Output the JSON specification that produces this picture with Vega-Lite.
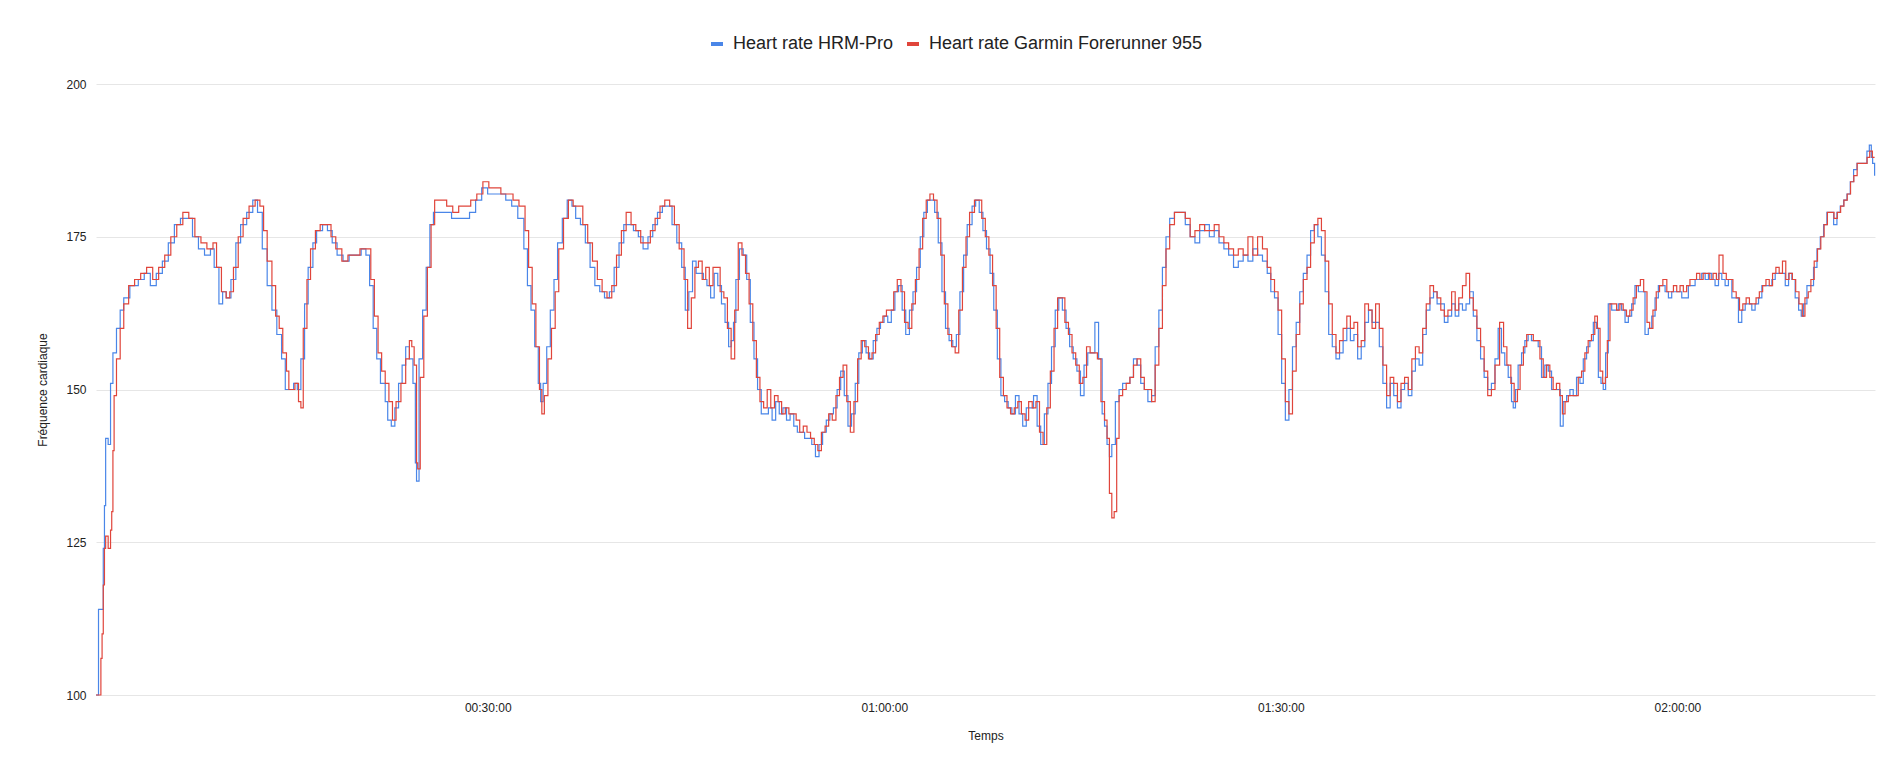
{
  "$schema": "https://vega.github.io/schema/vega-lite/v6.json",
  "description": "Heart rate HRM-Pro vs Garmin Forerunner 955",
  "autosize": {"type": "none"},
  "width": 1779,
  "height": 611,
  "padding": {"left": 96, "top": 84, "right": 13, "bottom": 62},
  "background": "white",
  "config": {
    "view": {"stroke": null},
    "font": "Liberation Sans",
    "axis": {"labelFont": "Liberation Sans", "titleFont": "Liberation Sans"}
  },
  "datasets": {
    "hrm": [
      {"t":0.36,"hr":100},{"t":0.55,"hr":114},{"t":0.73,"hr":114},{"t":0.91,"hr":124},{"t":1.0,"hr":131},{"t":1.09,"hr":142},{"t":1.28,"hr":141},{"t":1.46,"hr":151},{"t":1.64,"hr":156},{"t":1.91,"hr":160},
      {"t":2.19,"hr":163},{"t":2.46,"hr":165},{"t":2.92,"hr":167},{"t":3.56,"hr":168},{"t":4.01,"hr":169},{"t":4.47,"hr":167},{"t":4.92,"hr":169},{"t":5.38,"hr":171},{"t":5.83,"hr":174},{"t":6.29,"hr":177},
      {"t":6.75,"hr":178},{"t":7.2,"hr":178},{"t":7.66,"hr":175},{"t":8.11,"hr":173},{"t":8.57,"hr":172},{"t":9.02,"hr":173},{"t":9.3,"hr":170},{"t":9.66,"hr":164},{"t":9.94,"hr":166},{"t":10.21,"hr":165},
      {"t":10.57,"hr":168},{"t":10.94,"hr":174},{"t":11.3,"hr":177},{"t":11.76,"hr":179},{"t":12.22,"hr":181},{"t":12.58,"hr":179},{"t":12.94,"hr":173},{"t":13.31,"hr":167},{"t":13.67,"hr":163},{"t":14.04,"hr":159},
      {"t":14.4,"hr":155},{"t":14.68,"hr":150},{"t":14.95,"hr":150},{"t":15.31,"hr":151},{"t":15.59,"hr":150},{"t":15.86,"hr":155},{"t":16.14,"hr":164},{"t":16.41,"hr":170},{"t":16.77,"hr":174},{"t":17.05,"hr":176},
      {"t":17.5,"hr":177},{"t":17.87,"hr":176},{"t":18.23,"hr":174},{"t":18.6,"hr":172},{"t":19.05,"hr":171},{"t":19.51,"hr":172},{"t":19.96,"hr":172},{"t":20.42,"hr":173},{"t":20.78,"hr":172},{"t":21.06,"hr":167},
      {"t":21.33,"hr":160},{"t":21.6,"hr":155},{"t":21.88,"hr":151},{"t":22.24,"hr":148},{"t":22.43,"hr":145},{"t":22.7,"hr":144},{"t":22.97,"hr":147},{"t":23.25,"hr":151},{"t":23.52,"hr":154},{"t":23.79,"hr":157},
      {"t":24.07,"hr":155},{"t":24.34,"hr":151},{"t":24.52,"hr":138},{"t":24.61,"hr":135},{"t":24.8,"hr":155},{"t":25.07,"hr":163},{"t":25.34,"hr":170},{"t":25.62,"hr":177},{"t":25.89,"hr":179},{"t":26.35,"hr":179},
      {"t":26.8,"hr":179},{"t":27.26,"hr":178},{"t":27.71,"hr":178},{"t":28.17,"hr":178},{"t":28.62,"hr":179},{"t":29.08,"hr":181},{"t":29.54,"hr":183},{"t":29.99,"hr":182},{"t":30.45,"hr":182},{"t":30.9,"hr":182},
      {"t":31.36,"hr":181},{"t":31.81,"hr":180},{"t":32.27,"hr":178},{"t":32.73,"hr":173},{"t":33.0,"hr":167},{"t":33.27,"hr":163},{"t":33.55,"hr":157},{"t":33.82,"hr":151},{"t":34.0,"hr":148},{"t":34.19,"hr":151},
      {"t":34.46,"hr":157},{"t":34.73,"hr":163},{"t":35.01,"hr":168},{"t":35.28,"hr":174},{"t":35.64,"hr":178},{"t":36.01,"hr":181},{"t":36.37,"hr":180},{"t":36.65,"hr":178},{"t":37.01,"hr":177},{"t":37.38,"hr":174},
      {"t":37.74,"hr":170},{"t":38.1,"hr":167},{"t":38.47,"hr":166},{"t":38.83,"hr":165},{"t":39.2,"hr":166},{"t":39.56,"hr":170},{"t":39.93,"hr":174},{"t":40.29,"hr":177},{"t":40.66,"hr":177},{"t":41.02,"hr":176},
      {"t":41.39,"hr":175},{"t":41.75,"hr":173},{"t":42.12,"hr":175},{"t":42.48,"hr":177},{"t":42.84,"hr":179},{"t":43.21,"hr":180},{"t":43.57,"hr":180},{"t":43.94,"hr":177},{"t":44.3,"hr":174},{"t":44.67,"hr":170},
      {"t":44.94,"hr":163},{"t":45.21,"hr":166},{"t":45.49,"hr":171},{"t":45.76,"hr":169},{"t":46.04,"hr":169},{"t":46.31,"hr":168},{"t":46.58,"hr":167},{"t":46.86,"hr":165},{"t":47.13,"hr":169},{"t":47.4,"hr":167},
      {"t":47.68,"hr":164},{"t":47.95,"hr":161},{"t":48.22,"hr":157},{"t":48.41,"hr":158},{"t":48.59,"hr":161},{"t":48.77,"hr":168},{"t":49.04,"hr":173},{"t":49.32,"hr":172},{"t":49.59,"hr":168},{"t":49.86,"hr":161},
      {"t":50.14,"hr":155},{"t":50.41,"hr":150},{"t":50.69,"hr":146},{"t":50.96,"hr":146},{"t":51.23,"hr":147},{"t":51.51,"hr":145},{"t":51.78,"hr":148},{"t":52.05,"hr":146},{"t":52.33,"hr":147},{"t":52.6,"hr":145},
      {"t":52.87,"hr":146},{"t":53.15,"hr":144},{"t":53.42,"hr":143},{"t":53.69,"hr":143},{"t":53.97,"hr":142},{"t":54.24,"hr":142},{"t":54.51,"hr":141},{"t":54.79,"hr":139},{"t":55.06,"hr":141},{"t":55.33,"hr":143},
      {"t":55.61,"hr":145},{"t":55.88,"hr":146},{"t":56.15,"hr":147},{"t":56.43,"hr":150},{"t":56.7,"hr":153},{"t":56.97,"hr":149},{"t":57.25,"hr":144},{"t":57.52,"hr":146},{"t":57.8,"hr":151},{"t":58.07,"hr":156},
      {"t":58.34,"hr":158},{"t":58.62,"hr":156},{"t":58.89,"hr":155},{"t":59.16,"hr":158},{"t":59.44,"hr":160},{"t":59.71,"hr":161},{"t":59.98,"hr":162},{"t":60.26,"hr":161},{"t":60.53,"hr":163},{"t":60.8,"hr":166},
      {"t":61.08,"hr":167},{"t":61.35,"hr":163},{"t":61.62,"hr":159},{"t":61.9,"hr":163},{"t":62.17,"hr":166},{"t":62.44,"hr":170},{"t":62.72,"hr":175},{"t":62.99,"hr":179},{"t":63.26,"hr":181},{"t":63.54,"hr":181},
      {"t":63.81,"hr":179},{"t":64.08,"hr":174},{"t":64.36,"hr":166},{"t":64.63,"hr":160},{"t":64.9,"hr":158},{"t":65.18,"hr":157},{"t":65.45,"hr":159},{"t":65.72,"hr":166},{"t":66.0,"hr":172},{"t":66.27,"hr":177},
      {"t":66.64,"hr":180},{"t":66.91,"hr":181},{"t":67.18,"hr":179},{"t":67.46,"hr":176},{"t":67.73,"hr":173},{"t":68.0,"hr":169},{"t":68.28,"hr":163},{"t":68.55,"hr":155},{"t":68.82,"hr":149},{"t":69.1,"hr":148},
      {"t":69.37,"hr":147},{"t":69.65,"hr":146},{"t":69.92,"hr":149},{"t":70.19,"hr":146},{"t":70.47,"hr":144},{"t":70.74,"hr":147},{"t":71.01,"hr":147},{"t":71.29,"hr":149},{"t":71.56,"hr":144},{"t":71.83,"hr":141},
      {"t":72.11,"hr":146},{"t":72.38,"hr":151},{"t":72.65,"hr":157},{"t":72.93,"hr":163},{"t":73.2,"hr":165},{"t":73.47,"hr":163},{"t":73.75,"hr":160},{"t":74.02,"hr":157},{"t":74.29,"hr":155},{"t":74.57,"hr":153},
      {"t":74.84,"hr":149},{"t":75.11,"hr":154},{"t":75.39,"hr":156},{"t":75.66,"hr":156},{"t":75.93,"hr":161},{"t":76.21,"hr":155},{"t":76.48,"hr":146},{"t":76.66,"hr":144},{"t":76.85,"hr":141},{"t":77.03,"hr":139},
      {"t":77.21,"hr":141},{"t":77.48,"hr":148},{"t":77.76,"hr":150},{"t":78.03,"hr":151},{"t":78.3,"hr":151},{"t":78.58,"hr":152},{"t":78.85,"hr":155},{"t":79.12,"hr":154},{"t":79.4,"hr":151},{"t":79.67,"hr":150},
      {"t":79.94,"hr":148},{"t":80.22,"hr":149},{"t":80.49,"hr":157},{"t":80.77,"hr":163},{"t":81.04,"hr":170},{"t":81.31,"hr":175},{"t":81.59,"hr":178},{"t":81.95,"hr":179},{"t":82.41,"hr":179},{"t":82.77,"hr":177},
      {"t":83.14,"hr":175},{"t":83.5,"hr":174},{"t":83.86,"hr":176},{"t":84.23,"hr":177},{"t":84.59,"hr":175},{"t":84.96,"hr":176},{"t":85.32,"hr":174},{"t":85.69,"hr":173},{"t":86.05,"hr":172},{"t":86.42,"hr":170},
      {"t":86.78,"hr":171},{"t":87.15,"hr":172},{"t":87.51,"hr":171},{"t":87.88,"hr":173},{"t":88.24,"hr":172},{"t":88.61,"hr":171},{"t":88.97,"hr":169},{"t":89.24,"hr":166},{"t":89.52,"hr":165},{"t":89.79,"hr":159},
      {"t":90.06,"hr":151},{"t":90.34,"hr":145},{"t":90.61,"hr":150},{"t":90.88,"hr":157},{"t":91.16,"hr":161},{"t":91.43,"hr":166},{"t":91.7,"hr":169},{"t":91.98,"hr":172},{"t":92.25,"hr":176},{"t":92.53,"hr":177},
      {"t":92.8,"hr":175},{"t":93.07,"hr":172},{"t":93.35,"hr":166},{"t":93.62,"hr":159},{"t":93.89,"hr":157},{"t":94.17,"hr":155},{"t":94.44,"hr":156},{"t":94.71,"hr":158},{"t":94.99,"hr":160},{"t":95.26,"hr":158},
      {"t":95.53,"hr":159},{"t":95.81,"hr":155},{"t":96.08,"hr":157},{"t":96.35,"hr":161},{"t":96.63,"hr":163},{"t":96.9,"hr":161},{"t":97.17,"hr":161},{"t":97.45,"hr":157},{"t":97.72,"hr":151},{"t":98.0,"hr":147},
      {"t":98.27,"hr":151},{"t":98.54,"hr":149},{"t":98.82,"hr":147},{"t":99.09,"hr":150},{"t":99.36,"hr":151},{"t":99.64,"hr":149},{"t":99.91,"hr":153},{"t":100.18,"hr":155},{"t":100.46,"hr":154},{"t":100.73,"hr":159},
      {"t":101.0,"hr":163},{"t":101.28,"hr":165},{"t":101.55,"hr":166},{"t":101.82,"hr":164},{"t":102.1,"hr":164},{"t":102.37,"hr":161},{"t":102.64,"hr":162},{"t":102.92,"hr":164},{"t":103.19,"hr":162},{"t":103.46,"hr":164},
      {"t":103.74,"hr":163},{"t":104.01,"hr":164},{"t":104.28,"hr":166},{"t":104.56,"hr":162},{"t":104.83,"hr":158},{"t":105.11,"hr":155},{"t":105.38,"hr":152},{"t":105.65,"hr":150},{"t":105.93,"hr":151},{"t":106.2,"hr":155},
      {"t":106.44,"hr":160},{"t":106.69,"hr":156},{"t":106.94,"hr":154},{"t":107.2,"hr":152},{"t":107.45,"hr":148},{"t":107.58,"hr":147},{"t":107.75,"hr":150},{"t":107.95,"hr":154},{"t":108.21,"hr":156},{"t":108.46,"hr":158},
      {"t":108.71,"hr":159},{"t":108.96,"hr":158},{"t":109.22,"hr":158},{"t":109.47,"hr":157},{"t":109.72,"hr":152},{"t":109.97,"hr":154},{"t":110.23,"hr":153},{"t":110.48,"hr":150},{"t":110.73,"hr":150},{"t":110.98,"hr":150},
      {"t":111.14,"hr":144},{"t":111.36,"hr":148},{"t":111.62,"hr":149},{"t":111.87,"hr":150},{"t":112.12,"hr":149},{"t":112.37,"hr":152},{"t":112.63,"hr":151},{"t":112.88,"hr":155},{"t":113.13,"hr":157},{"t":113.38,"hr":158},
      {"t":113.64,"hr":161},{"t":113.89,"hr":160},{"t":114.02,"hr":152},{"t":114.22,"hr":151},{"t":114.39,"hr":150},{"t":114.57,"hr":156},{"t":114.77,"hr":164},{"t":115.03,"hr":163},{"t":115.28,"hr":163},{"t":115.53,"hr":164},
      {"t":115.78,"hr":163},{"t":116.04,"hr":161},{"t":116.29,"hr":162},{"t":116.54,"hr":164},{"t":116.79,"hr":167},{"t":117.05,"hr":166},{"t":117.3,"hr":166},{"t":117.55,"hr":159},{"t":117.8,"hr":160},{"t":118.06,"hr":162},
      {"t":118.31,"hr":165},{"t":118.56,"hr":167},{"t":118.81,"hr":167},{"t":119.07,"hr":166},{"t":119.32,"hr":165},{"t":119.57,"hr":166},{"t":119.82,"hr":166},{"t":120.08,"hr":166},{"t":120.33,"hr":165},{"t":120.58,"hr":165},
      {"t":120.83,"hr":167},{"t":121.09,"hr":167},{"t":121.34,"hr":168},{"t":121.59,"hr":168},{"t":121.84,"hr":169},{"t":122.1,"hr":168},{"t":122.35,"hr":169},{"t":122.6,"hr":168},{"t":122.85,"hr":167},{"t":123.11,"hr":169},
      {"t":123.36,"hr":168},{"t":123.61,"hr":167},{"t":123.86,"hr":168},{"t":124.12,"hr":165},{"t":124.37,"hr":165},{"t":124.62,"hr":161},{"t":124.87,"hr":163},{"t":125.13,"hr":164},{"t":125.38,"hr":164},{"t":125.63,"hr":163},
      {"t":125.88,"hr":164},{"t":126.14,"hr":165},{"t":126.39,"hr":167},{"t":126.64,"hr":167},{"t":126.89,"hr":167},{"t":127.15,"hr":168},{"t":127.4,"hr":169},{"t":127.65,"hr":169},{"t":127.9,"hr":169},{"t":128.16,"hr":167},
      {"t":128.41,"hr":169},{"t":128.66,"hr":168},{"t":128.91,"hr":165},{"t":129.17,"hr":163},{"t":129.37,"hr":162},{"t":129.55,"hr":164},{"t":129.8,"hr":167},{"t":130.05,"hr":167},{"t":130.3,"hr":170},{"t":130.56,"hr":173},
      {"t":130.81,"hr":175},{"t":131.06,"hr":177},{"t":131.31,"hr":179},{"t":131.57,"hr":179},{"t":131.82,"hr":177},{"t":132.07,"hr":179},{"t":132.32,"hr":180},{"t":132.58,"hr":181},{"t":132.83,"hr":182},{"t":133.08,"hr":184},
      {"t":133.33,"hr":186},{"t":133.59,"hr":187},{"t":133.84,"hr":187},{"t":134.09,"hr":187},{"t":134.34,"hr":189},{"t":134.52,"hr":190},{"t":134.67,"hr":188},{"t":134.77,"hr":187},{"t":134.92,"hr":185}
    ],
    "garmin": [
      {"t":0.36,"hr":100},{"t":0.64,"hr":100},{"t":0.73,"hr":106},{"t":0.82,"hr":110},{"t":0.91,"hr":118},{"t":1.0,"hr":124},{"t":1.09,"hr":126},{"t":1.28,"hr":124},{"t":1.46,"hr":127},{"t":1.55,"hr":130},
      {"t":1.64,"hr":140},{"t":1.73,"hr":149},{"t":1.91,"hr":155},{"t":2.19,"hr":160},{"t":2.46,"hr":164},{"t":2.83,"hr":167},{"t":3.28,"hr":168},{"t":3.74,"hr":169},{"t":4.19,"hr":170},{"t":4.65,"hr":168},
      {"t":5.1,"hr":170},{"t":5.56,"hr":172},{"t":6.02,"hr":175},{"t":6.47,"hr":177},{"t":6.93,"hr":179},{"t":7.38,"hr":178},{"t":7.84,"hr":175},{"t":8.3,"hr":174},{"t":8.75,"hr":173},{"t":9.21,"hr":174},
      {"t":9.48,"hr":170},{"t":9.85,"hr":166},{"t":10.21,"hr":165},{"t":10.48,"hr":166},{"t":10.76,"hr":170},{"t":11.12,"hr":175},{"t":11.49,"hr":178},{"t":11.94,"hr":180},{"t":12.4,"hr":181},{"t":12.76,"hr":180},
      {"t":13.04,"hr":176},{"t":13.31,"hr":171},{"t":13.67,"hr":167},{"t":13.95,"hr":162},{"t":14.22,"hr":160},{"t":14.49,"hr":156},{"t":14.77,"hr":153},{"t":14.95,"hr":150},{"t":15.41,"hr":151},{"t":15.68,"hr":148},
      {"t":15.86,"hr":147},{"t":16.04,"hr":160},{"t":16.32,"hr":168},{"t":16.59,"hr":173},{"t":16.96,"hr":176},{"t":17.32,"hr":177},{"t":17.78,"hr":177},{"t":18.14,"hr":175},{"t":18.5,"hr":173},{"t":18.96,"hr":171},
      {"t":19.42,"hr":172},{"t":19.87,"hr":172},{"t":20.33,"hr":173},{"t":20.88,"hr":173},{"t":21.15,"hr":168},{"t":21.42,"hr":162},{"t":21.7,"hr":156},{"t":21.97,"hr":153},{"t":22.24,"hr":151},{"t":22.52,"hr":148},
      {"t":22.79,"hr":145},{"t":23.06,"hr":148},{"t":23.43,"hr":151},{"t":23.79,"hr":155},{"t":24.07,"hr":158},{"t":24.25,"hr":157},{"t":24.43,"hr":154},{"t":24.61,"hr":138},{"t":24.7,"hr":137},{"t":24.89,"hr":152},
      {"t":25.16,"hr":162},{"t":25.43,"hr":170},{"t":25.71,"hr":177},{"t":25.98,"hr":181},{"t":26.44,"hr":181},{"t":26.89,"hr":180},{"t":27.35,"hr":179},{"t":27.8,"hr":180},{"t":28.26,"hr":180},{"t":28.71,"hr":181},
      {"t":29.17,"hr":182},{"t":29.63,"hr":184},{"t":30.08,"hr":183},{"t":30.54,"hr":183},{"t":30.99,"hr":182},{"t":31.45,"hr":182},{"t":31.91,"hr":181},{"t":32.36,"hr":180},{"t":32.82,"hr":176},{"t":33.09,"hr":170},
      {"t":33.36,"hr":164},{"t":33.64,"hr":157},{"t":33.91,"hr":150},{"t":34.09,"hr":146},{"t":34.28,"hr":149},{"t":34.55,"hr":155},{"t":34.82,"hr":160},{"t":35.1,"hr":166},{"t":35.37,"hr":173},{"t":35.73,"hr":178},
      {"t":36.1,"hr":181},{"t":36.46,"hr":180},{"t":36.83,"hr":180},{"t":37.19,"hr":177},{"t":37.56,"hr":174},{"t":37.92,"hr":171},{"t":38.29,"hr":168},{"t":38.65,"hr":166},{"t":39.02,"hr":165},{"t":39.38,"hr":167},
      {"t":39.74,"hr":172},{"t":40.11,"hr":176},{"t":40.47,"hr":179},{"t":40.84,"hr":177},{"t":41.2,"hr":176},{"t":41.57,"hr":174},{"t":41.93,"hr":174},{"t":42.3,"hr":176},{"t":42.66,"hr":178},{"t":43.03,"hr":180},
      {"t":43.39,"hr":181},{"t":43.76,"hr":180},{"t":44.12,"hr":177},{"t":44.48,"hr":173},{"t":44.85,"hr":168},{"t":45.12,"hr":160},{"t":45.4,"hr":165},{"t":45.67,"hr":170},{"t":45.94,"hr":171},{"t":46.22,"hr":168},
      {"t":46.49,"hr":170},{"t":46.76,"hr":167},{"t":47.04,"hr":170},{"t":47.31,"hr":170},{"t":47.58,"hr":166},{"t":47.86,"hr":165},{"t":48.13,"hr":160},{"t":48.41,"hr":155},{"t":48.68,"hr":163},{"t":48.95,"hr":174},
      {"t":49.23,"hr":172},{"t":49.5,"hr":169},{"t":49.77,"hr":164},{"t":50.05,"hr":158},{"t":50.32,"hr":152},{"t":50.59,"hr":148},{"t":50.87,"hr":147},{"t":51.14,"hr":150},{"t":51.41,"hr":147},{"t":51.69,"hr":149},
      {"t":51.96,"hr":148},{"t":52.23,"hr":146},{"t":52.51,"hr":147},{"t":52.78,"hr":146},{"t":53.05,"hr":146},{"t":53.33,"hr":145},{"t":53.6,"hr":143},{"t":53.87,"hr":144},{"t":54.15,"hr":143},{"t":54.42,"hr":142},
      {"t":54.7,"hr":141},{"t":54.97,"hr":140},{"t":55.24,"hr":143},{"t":55.52,"hr":144},{"t":55.79,"hr":146},{"t":56.06,"hr":145},{"t":56.34,"hr":149},{"t":56.61,"hr":152},{"t":56.88,"hr":154},{"t":57.16,"hr":148},
      {"t":57.43,"hr":143},{"t":57.7,"hr":148},{"t":57.98,"hr":155},{"t":58.25,"hr":158},{"t":58.52,"hr":157},{"t":58.8,"hr":155},{"t":59.07,"hr":156},{"t":59.34,"hr":159},{"t":59.62,"hr":161},{"t":59.89,"hr":162},
      {"t":60.16,"hr":163},{"t":60.44,"hr":163},{"t":60.71,"hr":166},{"t":60.98,"hr":168},{"t":61.26,"hr":166},{"t":61.53,"hr":161},{"t":61.8,"hr":160},{"t":62.08,"hr":164},{"t":62.35,"hr":168},{"t":62.63,"hr":173},
      {"t":62.9,"hr":178},{"t":63.17,"hr":181},{"t":63.45,"hr":182},{"t":63.72,"hr":181},{"t":63.99,"hr":178},{"t":64.27,"hr":172},{"t":64.54,"hr":164},{"t":64.81,"hr":159},{"t":65.09,"hr":157},{"t":65.36,"hr":156},
      {"t":65.63,"hr":163},{"t":65.91,"hr":170},{"t":66.18,"hr":175},{"t":66.45,"hr":179},{"t":66.82,"hr":181},{"t":67.09,"hr":181},{"t":67.37,"hr":178},{"t":67.64,"hr":175},{"t":67.91,"hr":172},{"t":68.19,"hr":167},
      {"t":68.46,"hr":160},{"t":68.73,"hr":152},{"t":69.01,"hr":149},{"t":69.28,"hr":147},{"t":69.55,"hr":146},{"t":69.83,"hr":147},{"t":70.1,"hr":148},{"t":70.37,"hr":146},{"t":70.65,"hr":145},{"t":70.92,"hr":148},
      {"t":71.19,"hr":147},{"t":71.47,"hr":148},{"t":71.74,"hr":143},{"t":72.01,"hr":141},{"t":72.29,"hr":147},{"t":72.56,"hr":153},{"t":72.84,"hr":160},{"t":73.11,"hr":165},{"t":73.38,"hr":165},{"t":73.66,"hr":161},
      {"t":73.93,"hr":159},{"t":74.2,"hr":156},{"t":74.48,"hr":154},{"t":74.75,"hr":151},{"t":75.02,"hr":152},{"t":75.3,"hr":157},{"t":75.57,"hr":156},{"t":75.84,"hr":156},{"t":76.12,"hr":155},{"t":76.39,"hr":148},
      {"t":76.66,"hr":145},{"t":76.85,"hr":142},{"t":77.03,"hr":133},{"t":77.21,"hr":129},{"t":77.39,"hr":130},{"t":77.58,"hr":142},{"t":77.76,"hr":149},{"t":78.03,"hr":150},{"t":78.3,"hr":151},{"t":78.58,"hr":152},
      {"t":78.85,"hr":154},{"t":79.12,"hr":155},{"t":79.4,"hr":152},{"t":79.67,"hr":150},{"t":79.94,"hr":150},{"t":80.22,"hr":148},{"t":80.49,"hr":154},{"t":80.77,"hr":160},{"t":81.04,"hr":167},{"t":81.31,"hr":173},
      {"t":81.59,"hr":177},{"t":81.95,"hr":179},{"t":82.41,"hr":179},{"t":82.77,"hr":178},{"t":83.14,"hr":175},{"t":83.5,"hr":176},{"t":83.86,"hr":177},{"t":84.23,"hr":176},{"t":84.59,"hr":176},{"t":84.96,"hr":177},
      {"t":85.32,"hr":175},{"t":85.69,"hr":174},{"t":86.05,"hr":173},{"t":86.42,"hr":172},{"t":86.78,"hr":173},{"t":87.15,"hr":172},{"t":87.51,"hr":175},{"t":87.88,"hr":172},{"t":88.24,"hr":175},{"t":88.61,"hr":173},
      {"t":88.97,"hr":170},{"t":89.24,"hr":168},{"t":89.52,"hr":166},{"t":89.79,"hr":163},{"t":90.06,"hr":155},{"t":90.34,"hr":148},{"t":90.61,"hr":146},{"t":90.88,"hr":153},{"t":91.16,"hr":159},{"t":91.43,"hr":164},
      {"t":91.7,"hr":168},{"t":91.98,"hr":170},{"t":92.25,"hr":174},{"t":92.53,"hr":177},{"t":92.8,"hr":178},{"t":93.07,"hr":176},{"t":93.35,"hr":171},{"t":93.62,"hr":164},{"t":93.89,"hr":159},{"t":94.17,"hr":156},
      {"t":94.44,"hr":158},{"t":94.71,"hr":160},{"t":94.99,"hr":162},{"t":95.26,"hr":160},{"t":95.53,"hr":161},{"t":95.81,"hr":157},{"t":96.08,"hr":158},{"t":96.35,"hr":164},{"t":96.63,"hr":163},{"t":96.9,"hr":160},
      {"t":97.17,"hr":164},{"t":97.45,"hr":160},{"t":97.72,"hr":154},{"t":98.0,"hr":149},{"t":98.27,"hr":152},{"t":98.54,"hr":151},{"t":98.82,"hr":148},{"t":99.09,"hr":151},{"t":99.36,"hr":152},{"t":99.64,"hr":150},
      {"t":99.91,"hr":155},{"t":100.18,"hr":157},{"t":100.46,"hr":156},{"t":100.73,"hr":160},{"t":101.0,"hr":164},{"t":101.28,"hr":167},{"t":101.55,"hr":166},{"t":101.82,"hr":165},{"t":102.1,"hr":163},{"t":102.37,"hr":162},
      {"t":102.64,"hr":163},{"t":102.92,"hr":166},{"t":103.19,"hr":163},{"t":103.46,"hr":165},{"t":103.74,"hr":167},{"t":104.01,"hr":169},{"t":104.28,"hr":165},{"t":104.56,"hr":163},{"t":104.83,"hr":160},{"t":105.11,"hr":157},
      {"t":105.38,"hr":153},{"t":105.65,"hr":149},{"t":105.93,"hr":150},{"t":106.2,"hr":154},{"t":106.55,"hr":161},{"t":106.85,"hr":157},{"t":107.1,"hr":154},{"t":107.4,"hr":151},{"t":107.65,"hr":148},{"t":107.9,"hr":150},
      {"t":108.1,"hr":154},{"t":108.35,"hr":157},{"t":108.6,"hr":159},{"t":108.85,"hr":159},{"t":109.1,"hr":158},{"t":109.35,"hr":158},{"t":109.6,"hr":155},{"t":109.85,"hr":152},{"t":110.1,"hr":154},{"t":110.35,"hr":152},
      {"t":110.6,"hr":150},{"t":110.85,"hr":151},{"t":111.1,"hr":149},{"t":111.3,"hr":146},{"t":111.5,"hr":148},{"t":111.75,"hr":149},{"t":112.0,"hr":149},{"t":112.25,"hr":149},{"t":112.5,"hr":152},{"t":112.75,"hr":153},
      {"t":113.0,"hr":156},{"t":113.25,"hr":158},{"t":113.5,"hr":159},{"t":113.75,"hr":162},{"t":113.95,"hr":160},{"t":114.15,"hr":153},{"t":114.35,"hr":151},{"t":114.55,"hr":152},{"t":114.7,"hr":158},{"t":114.9,"hr":164},
      {"t":115.15,"hr":164},{"t":115.4,"hr":163},{"t":115.65,"hr":164},{"t":115.9,"hr":163},{"t":116.15,"hr":162},{"t":116.4,"hr":163},{"t":116.65,"hr":165},{"t":116.9,"hr":167},{"t":117.2,"hr":168},{"t":117.45,"hr":166},
      {"t":117.7,"hr":161},{"t":117.9,"hr":160},{"t":118.15,"hr":163},{"t":118.4,"hr":166},{"t":118.65,"hr":167},{"t":118.9,"hr":168},{"t":119.2,"hr":166},{"t":119.45,"hr":166},{"t":119.7,"hr":167},{"t":119.95,"hr":166},
      {"t":120.2,"hr":167},{"t":120.45,"hr":166},{"t":120.7,"hr":167},{"t":120.95,"hr":168},{"t":121.2,"hr":168},{"t":121.45,"hr":169},{"t":121.7,"hr":168},{"t":121.95,"hr":169},{"t":122.2,"hr":169},{"t":122.45,"hr":168},
      {"t":122.7,"hr":169},{"t":122.95,"hr":168},{"t":123.15,"hr":172},{"t":123.45,"hr":169},{"t":123.7,"hr":168},{"t":123.95,"hr":168},{"t":124.2,"hr":166},{"t":124.45,"hr":165},{"t":124.7,"hr":163},{"t":124.95,"hr":164},
      {"t":125.2,"hr":165},{"t":125.45,"hr":164},{"t":125.7,"hr":164},{"t":125.95,"hr":165},{"t":126.2,"hr":166},{"t":126.45,"hr":167},{"t":126.7,"hr":168},{"t":126.95,"hr":167},{"t":127.2,"hr":169},{"t":127.45,"hr":170},
      {"t":127.7,"hr":169},{"t":127.95,"hr":171},{"t":128.2,"hr":168},{"t":128.45,"hr":169},{"t":128.7,"hr":168},{"t":128.95,"hr":166},{"t":129.2,"hr":164},{"t":129.45,"hr":162},{"t":129.65,"hr":165},{"t":129.9,"hr":166},
      {"t":130.1,"hr":168},{"t":130.35,"hr":171},{"t":130.6,"hr":173},{"t":130.85,"hr":175},{"t":131.1,"hr":177},{"t":131.35,"hr":179},{"t":131.6,"hr":179},{"t":131.85,"hr":178},{"t":132.1,"hr":179},{"t":132.35,"hr":180},
      {"t":132.6,"hr":181},{"t":132.85,"hr":182},{"t":133.1,"hr":184},{"t":133.35,"hr":185},{"t":133.6,"hr":187},{"t":133.85,"hr":187},{"t":134.1,"hr":187},{"t":134.35,"hr":188},{"t":134.55,"hr":189},{"t":134.75,"hr":188},
      {"t":134.92,"hr":188}
    ]
  },
  "encoding": {
    "x": {
      "field": "t",
      "type": "quantitative",
      "title": "Temps",
      "scale": {"domain": [0.36, 134.95], "nice": false, "zero": false},
      "axis": {
        "values": [30, 60, 90, 120],
        "labelExpr": "utcFormat(datum.value * 60000, '%H:%M:%S')",
        "grid": false,
        "domain": false,
        "ticks": false,
        "labelFontSize": 12,
        "labelColor": "#222222",
        "labelPadding": 7,
        "titleFontSize": 12,
        "titleFontWeight": "normal",
        "titleColor": "#222222",
        "titlePadding": 17
      }
    },
    "y": {
      "field": "hr",
      "type": "quantitative",
      "title": "Fréquence cardiaque",
      "scale": {"domain": [100, 200], "nice": false, "zero": false},
      "axis": {
        "values": [100, 125, 150, 175, 200],
        "grid": true,
        "gridColor": "#e6e6e6",
        "domain": false,
        "ticks": false,
        "labelFontSize": 12,
        "labelColor": "#222222",
        "labelPadding": 10,
        "titleFontSize": 12,
        "titleFontWeight": "normal",
        "titleColor": "#222222",
        "titlePadding": 16
      }
    },
    "color": {
      "type": "nominal",
      "scale": {
        "domain": ["Heart rate HRM-Pro", "Heart rate Garmin Forerunner 955"],
        "range": ["#4a86e8", "#e0453b"]
      },
      "legend": {
        "title": null,
        "orient": "none",
        "direction": "horizontal",
        "legendX": 612,
        "legendY": -49,
        "symbolType": "stroke",
        "symbolSize": 144,
        "symbolStrokeWidth": 4,
        "labelFontSize": 18,
        "labelColor": "#222222",
        "labelFont": "Liberation Sans",
        "labelOffset": 7,
        "columnPadding": 5,
        "labelLimit": 400
      }
    }
  },
  "layer": [
    {
      "data": {"name": "hrm"},
      "mark": {"type": "line", "strokeWidth": 1.2, "interpolate": "step-after"},
      "encoding": {"color": {"datum": "Heart rate HRM-Pro"}}
    },
    {
      "data": {"name": "garmin"},
      "mark": {"type": "line", "strokeWidth": 1.2, "interpolate": "step-after"},
      "encoding": {"color": {"datum": "Heart rate Garmin Forerunner 955"}}
    }
  ]
}
